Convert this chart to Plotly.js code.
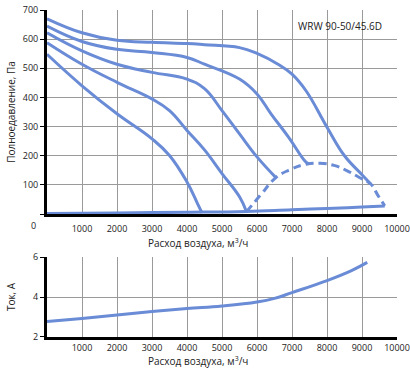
<!DOCTYPE html>
<html>
<head>
<meta charset="utf-8">
<script src="https://cdn.plot.ly/plotly-3.0.1.min.js"></script>
<style>html,body{margin:0;padding:0;background:#fff;}#chart{width:410px;height:373px;}</style>
</head>
<body>
<div id="chart"></div>
<script>
// Pressure curves (Па) vs airflow (м³/ч)
var c1x = [0, 1000, 2000, 3000, 4000, 4500, 5500, 6000, 6600, 7000, 7400, 8000, 8500, 9000, 9250];
var c1y = [670, 622, 596, 589, 585, 581, 571, 551, 514, 480, 423, 298, 200, 135, 103];
var c2x = [0, 1000, 2000, 3000, 4000, 4500, 5500, 6000, 6400, 6900, 7400, 7480];
var c2y = [645, 592, 565, 554, 537, 514, 463, 412, 344, 264, 178, 173];
var c3x = [0, 1000, 2000, 3000, 4000, 4500, 5000, 5500, 6000, 6540];
var c3y = [622, 560, 514, 486, 463, 430, 355, 275, 196, 125];
var c4x = [0, 1000, 2000, 3000, 3500, 4000, 4500, 5000, 5500, 5700];
var c4y = [588, 514, 452, 395, 355, 287, 220, 139, 59, 8];
var c5x = [0, 1000, 2000, 3000, 3500, 4000, 4300, 4430];
var c5y = [548, 440, 344, 258, 201, 110, 36, 4];
var baseX = [0, 2000, 4000, 5700, 7000, 8000, 9000, 9650];
var baseY = [2, 4, 6, 9, 15, 19, 24, 28];
var dashX = [5700, 6100, 6540, 6900, 7400, 7800, 8200, 8550, 8900, 9250, 9450, 9650];
var dashY = [8, 65, 125, 150, 171, 174, 167, 150, 127, 103, 65, 28];
// Current (А) vs airflow
var curX = [0, 1000, 2000, 3000, 4000, 5000, 6000, 6500, 7000, 8000, 8700, 9150];
var curY = [2.77, 2.93, 3.1, 3.27, 3.42, 3.55, 3.75, 3.93, 4.22, 4.82, 5.32, 5.73];

var xTicks = [1000, 2000, 3000, 4000, 5000, 6000, 7000, 8000, 9000, 10000];
var xTickText = ['1000', '2000', '3000', '4000', '5000', '6000', '7000', '8000', '9000', '10000'];
var pTicks = [0, 100, 200, 300, 400, 500, 600, 700];
var pTickText = ['', '100', '200', '300', '400', '500', '600', '700'];
var iTicks = [2, 4, 6];

var col = '#6a8bd5';
var FONT = 'Open Sans, Noto Sans, sans-serif';
function ln(x, y, dash, ax) {
  return {x: x, y: y, type: 'scatter', mode: 'lines', xaxis: ax ? 'x2' : 'x', yaxis: ax ? 'y2' : 'y',
    line: {color: col, width: 3, dash: dash || 'solid', shape: 'spline', smoothing: 1.2},
    hoverinfo: 'skip', showlegend: false};
}
var data = [
  ln(baseX, baseY), ln(c5x, c5y), ln(c4x, c4y), ln(c3x, c3y), ln(c2x, c2y), ln(c1x, c1y),
  ln(dashX, dashY, '8px,5px'),
  ln(curX, curY, null, true)
];
var xcommon = {range: [0, 10000], tickvals: xTicks, ticktext: xTickText, showgrid: true, gridcolor: '#9a9a9a', gridwidth: 1,
  showline: true, linecolor: '#000', linewidth: 3, ticks: '', zeroline: false,
  tickfont: {family: FONT, size: 9, color: '#222'}, fixedrange: true};
var layout = {
  width: 410, height: 373,
  margin: {l: 47, r: 13, t: 10, b: 36},
  paper_bgcolor: '#fff', plot_bgcolor: '#fff',
  font: {family: FONT, size: 9, color: '#222'},
  xaxis: Object.assign({}, xcommon, {anchor: 'y', ticklabelstandoff: 4}),
  xaxis2: Object.assign({}, xcommon, {anchor: 'y2'}),
  yaxis: {domain: [0.376, 1], range: [0, 700], tickvals: pTicks, ticktext: pTickText,
    showgrid: true, gridcolor: '#9a9a9a', gridwidth: 1, zeroline: false,
    showline: true, linecolor: '#000', linewidth: 3, ticks: 'outside', ticklen: 4, tickcolor: '#000', tickwidth: 1,
    tickfont: {family: FONT, size: 9, color: '#222'},
    title: {text: 'Полноедавление, Па', font: {family: FONT, size: 10, color: '#222'}, standoff: 6}},
  yaxis2: {domain: [0, 0.2446], range: [2, 6], tickvals: iTicks,
    showgrid: true, gridcolor: '#9a9a9a', gridwidth: 1, zeroline: false,
    showline: true, linecolor: '#000', linewidth: 3, ticks: 'outside', ticklen: 4, tickcolor: '#000', tickwidth: 1,
    tickfont: {family: FONT, size: 9, color: '#222'},
    title: {text: 'Ток, А', font: {family: FONT, size: 10, color: '#222'}, standoff: 16}},
  annotations: [
    {text: 'WRW 90-50/45.6D', xref: 'x', yref: 'y', x: 8367, y: 645, showarrow: false,
      xanchor: 'center', yanchor: 'middle', font: {family: FONT, size: 10, color: '#222'}},
    {text: '0', xref: 'paper', yref: 'paper', x: -0.04, y: 0.3425, showarrow: false,
      xanchor: 'center', yanchor: 'middle', font: {family: FONT, size: 9, color: '#222'}},
    {text: 'Расход воздуха, м<sup>3</sup>/ч', xref: 'x', yref: 'paper', x: 4300, y: 0.286, showarrow: false,
      xanchor: 'center', yanchor: 'middle', font: {family: FONT, size: 10, color: '#222'}},
    {text: 'Расход воздуха, м<sup>3</sup>/ч', xref: 'x2', yref: 'paper', x: 4300, y: -0.072, showarrow: false,
      xanchor: 'center', yanchor: 'middle', font: {family: FONT, size: 10, color: '#222'}}
  ]
};
Plotly.newPlot('chart', data, layout, {staticPlot: true, displayModeBar: false});
</script>
</body>
</html>
